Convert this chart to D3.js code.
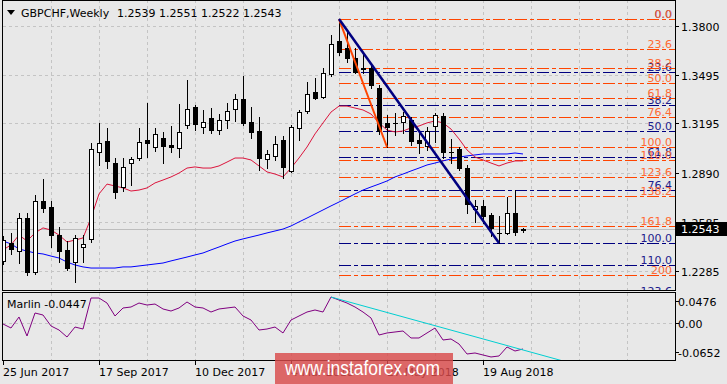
<!DOCTYPE html>
<html>
<head>
<meta charset="utf-8">
<script src="https://cdn.jsdelivr.net/npm/d3@7"></script>
<style>
  body { margin: 0; background: #e8e8e8; }
  svg { display: block; font-family: "DejaVu Sans", sans-serif; }
</style>
</head>
<body>
<div id="chart"></div>
<script>
// weekly bars, index 0 = week of 25 Jun 2017
const opens  = [1.2345,1.2456,1.2406,1.2610,1.2277,1.2715,1.2678,1.2505,1.2413,1.2338,1.2431,1.2481,1.3018,1.3086,1.2950,1.2802,1.2950,1.2981,1.3092,1.3049,1.3105,1.3062,1.3043,1.3185,1.3296,1.3173,1.3228,1.3154,1.3216,1.3284,1.3346,1.3204,1.3148,1.2975,1.2994,1.3092,1.2901,1.3167,1.3272,1.3389,1.3358,1.3500,1.3704,1.3661,1.3599,1.3537,1.3537,1.3414,1.3198,1.3198,1.3204,1.3216,1.3092,1.3055,1.3179,1.3241,1.3018,1.3037,1.2919,1.2666,1.2685,1.2629,1.2518,1.2518,1.2641,1.2539];
const highs  = [1.2499,1.2518,1.2641,1.2641,1.2752,1.2851,1.2715,1.2555,1.2468,1.2505,1.2505,1.3074,1.3198,1.3167,1.2981,1.2981,1.2987,1.3167,1.3321,1.3167,1.3142,1.3179,1.3315,1.3463,1.3309,1.3278,1.3290,1.3253,1.3321,1.3377,1.3488,1.3296,1.3235,1.3031,1.3117,1.3117,1.3185,1.3278,1.3451,1.3476,1.3537,1.3741,1.3840,1.3760,1.3661,1.3630,1.3556,1.3432,1.3247,1.3259,1.3265,1.3235,1.3154,1.3173,1.3259,1.3259,1.3099,1.3049,1.2938,1.2722,1.2722,1.2641,1.2623,1.2740,1.2783,1.2551];
const lows   = [1.2326,1.2388,1.2332,1.2258,1.2264,1.2647,1.2431,1.2338,1.2289,1.2215,1.2338,1.2462,1.2938,1.2919,1.2734,1.2777,1.2814,1.2969,1.2987,1.3024,1.2950,1.3018,1.2987,1.3167,1.3154,1.3136,1.3136,1.3130,1.3167,1.3210,1.3185,1.3105,1.2907,1.2919,1.2969,1.2858,1.2895,1.3092,1.3259,1.3346,1.3352,1.3488,1.3618,1.3574,1.3507,1.3507,1.3414,1.3130,1.3049,1.3123,1.3136,1.3062,1.3012,1.3031,1.3080,1.2981,1.2950,1.2907,1.2641,1.2586,1.2579,1.2499,1.2456,1.2512,1.2505,1.2522];
const closes = [1.2474,1.2419,1.2610,1.2277,1.2715,1.2672,1.2505,1.2406,1.2301,1.2487,1.2450,1.3037,1.3074,1.2963,1.2771,1.2926,1.2975,1.3080,1.3074,1.3130,1.3055,1.3049,1.3142,1.3284,1.3191,1.3204,1.3154,1.3216,1.3272,1.3346,1.3198,1.3142,1.2981,1.3006,1.3068,1.2926,1.3173,1.3265,1.3377,1.3352,1.3507,1.3686,1.3636,1.3599,1.3513,1.3531,1.3432,1.3148,1.3173,1.3196,1.3241,1.3086,1.3074,1.3148,1.3247,1.3018,1.3016,1.2919,1.2697,1.2685,1.2623,1.2549,1.2520,1.2641,1.2524,1.2543];

// moving averages drawn on the price panel
const maFast = [1.2413,1.2444,1.2505,1.2468,1.2518,1.2549,1.2536,1.2505,1.2462,1.2474,1.2487,1.2610,1.2759,1.2820,1.2808,1.2796,1.2777,1.2783,1.2796,1.2827,1.2845,1.2864,1.2888,1.2919,1.2926,1.2919,1.2919,1.2932,1.2956,1.2981,1.2981,1.2969,1.2932,1.2895,1.2882,1.2864,1.2919,1.2981,1.3049,1.3130,1.3198,1.3265,1.3302,1.3302,1.3290,1.3278,1.3253,1.3198,1.3154,1.3142,1.3148,1.3167,1.3179,1.3198,1.3210,1.3198,1.3160,1.3099,1.3031,1.2987,1.2969,1.2950,1.2932,1.2950,1.2963,1.2963];
const maSlow = [1.2468,1.2450,1.2419,1.2406,1.2394,1.2388,1.2375,1.2363,1.2338,1.2320,1.2308,1.2301,1.2301,1.2301,1.2301,1.2308,1.2308,1.2314,1.2320,1.2326,1.2332,1.2345,1.2357,1.2369,1.2382,1.2394,1.2413,1.2431,1.2450,1.2468,1.2481,1.2493,1.2505,1.2518,1.2530,1.2542,1.2561,1.2586,1.2610,1.2635,1.2660,1.2685,1.2709,1.2734,1.2759,1.2783,1.2802,1.2820,1.2839,1.2864,1.2882,1.2901,1.2919,1.2938,1.2950,1.2963,1.2975,1.2987,1.2994,1.3000,1.3006,1.3006,1.3006,1.3006,1.3012,1.3006];

// Marlin oscillator
const marlin = [-0.0033,-0.0122,0.0122,-0.0299,0.0210,0.0166,-0.0077,-0.0166,-0.0321,-0.0100,-0.0144,0.0542,0.0542,0.0431,0.0144,0.0321,0.0343,0.0431,0.0387,0.0409,0.0299,0.0254,0.0321,0.0454,0.0343,0.0321,0.0232,0.0299,0.0321,0.0343,0.0144,0.0055,-0.0166,-0.0144,-0.0100,-0.0232,0.0055,0.0144,0.0232,0.0277,0.0232,0.0564,0.0498,0.0431,0.0343,0.0232,0.0100,-0.0277,-0.0232,-0.0210,-0.0188,-0.0343,-0.0343,-0.0232,-0.0122,-0.0387,-0.0365,-0.0476,-0.0697,-0.0675,-0.0719,-0.0763,-0.0741,-0.0542,-0.0631,-0.0586];
const marlinTrend = [[41, 0.0564], [70, -0.0852]];

const dateTickBars = [0, 12, 24, 36, 48, 60];
const dateLabels = ["25 Jun 2017", "17 Sep 2017", "10 Dec 2017", "4 Mar 2018", "27 May 2018", "19 Aug 2018"];
const priceTicks = [1.3800, 1.3495, 1.3195, 1.2890, 1.2585, 1.2285];
const marlinTicks = [0.0476, 0, -0.0652];
const marlinTickLabels = ["0.0476", "0.00", "-0.0652"];

// fibonacci objects: anchors [bar, price]
const fibLevels = [0, 23.6, 38.2, 50, 61.8, 76.4, 100, 110, 123.6, 138.2, 161.8, 200];
const fibLabels = ["0.0", "23.6", "38.2", "50.0", "61.8", "76.4", "100.0", "110.0", "123.6", "138.2", "161.8", "200"];
const fibNavy = [[42, 1.3840], [62, 1.2456]];
const fibOrange = [[42, 1.3840], [48, 1.3049]];

const lastPrice = 1.2543;

const W = 727, H = 384;
const svg = d3.select("#chart").append("svg").attr("width", W).attr("height", H);

const x = d3.scaleLinear().domain([0, 84]).range([3, 675]);
const y = d3.scaleLinear().domain([1.21653, 1.39391]).range([290, 3]);
const ym = d3.scaleLinear().domain([-0.0830, 0.0653]).range([360, 293]);
const px = v => Math.round(x(v)) + 0.5;

svg.append("clipPath").attr("id", "clipMain").append("rect").attr("x", 3).attr("y", 0).attr("width", 672).attr("height", 290);
svg.append("clipPath").attr("id", "clipInd").append("rect").attr("x", 3).attr("y", 294).attr("width", 672).attr("height", 66);

const gridColor = "#c4c4c4";
// vertical grid
const vGrid = d3.range(6, 84, 6);
[[0, 290], [293, 360]].forEach(([a, b]) => {
  svg.append("g").selectAll("line").data(vGrid).join("line")
    .attr("x1", d => px(d)).attr("x2", d => px(d)).attr("y1", a).attr("y2", b)
    .attr("stroke", gridColor).attr("stroke-dasharray", "3,3");
});
// horizontal grid
svg.append("g").selectAll("line").data(priceTicks).join("line")
  .attr("x1", 3).attr("x2", 675).attr("y1", d => Math.round(y(d)) + 0.5).attr("y2", d => Math.round(y(d)) + 0.5)
  .attr("stroke", gridColor).attr("stroke-dasharray", "3,3");
svg.append("line").attr("x1", 3).attr("x2", 675)
  .attr("y1", Math.round(ym(0)) + 0.5).attr("y2", Math.round(ym(0)) + 0.5)
  .attr("stroke", gridColor).attr("stroke-dasharray", "3,3");

// last price line
svg.append("line").attr("x1", 3).attr("x2", 675)
  .attr("y1", Math.round(y(lastPrice)) + 0.5).attr("y2", Math.round(y(lastPrice)) + 0.5)
  .attr("stroke", "#bdbdbd");

const main = svg.append("g").attr("clip-path", "url(#clipMain)");

// fibonacci lines
function drawFib(anchors, color, textColor) {
  const hi = anchors[0][1], lo = anchors[1][1];
  const g = main.append("g");
  fibLevels.forEach((lv, k) => {
    const p = hi - lv / 100 * (hi - lo);
    const yy = Math.round(y(p)) + 0.5;
    g.append("line").attr("x1", x(anchors[0][0])).attr("x2", 675).attr("y1", yy).attr("y2", yy)
      .attr("stroke", color).attr("stroke-dasharray", "12,3,4,3");
    g.append("text").attr("x", 672).attr("y", yy - 2).attr("text-anchor", "end")
      .attr("font-size", 11).attr("fill", textColor).text(fibLabels[k]);
  });
}
drawFib(fibNavy, "#000080", "#1c1c8c");
drawFib(fibOrange, "#ff4500", "#ff6a33");

// moving averages
const line = d3.line().x((d, i) => x(i)).y(d => y(d));
main.append("path").datum(maSlow).attr("d", line).attr("fill", "none").attr("stroke", "#0000ff").attr("stroke-width", 1);
main.append("path").datum(maFast).attr("d", line).attr("fill", "none").attr("stroke", "#dc143c").attr("stroke-width", 1);

// candles
const candles = main.append("g");
opens.forEach((o, i) => {
  const c = closes[i], cx = px(i);
  candles.append("line").attr("x1", cx).attr("x2", cx)
    .attr("y1", Math.round(y(highs[i]))).attr("y2", Math.round(y(lows[i])) + 1)
    .attr("stroke", "#000");
  const top = Math.round(y(Math.max(o, c))), bot = Math.round(y(Math.min(o, c)));
  if (bot - top < 1) {
    candles.append("line").attr("x1", cx - 2.5).attr("x2", cx + 2.5).attr("y1", top + 0.5).attr("y2", top + 0.5).attr("stroke", "#000");
  } else {
    candles.append("rect").attr("x", cx - 2).attr("y", top + 0.5).attr("width", 4).attr("height", bot - top)
      .attr("fill", c >= o ? "#fff" : "#000").attr("stroke", "#000");
  }
});

// trend lines
main.append("line").attr("x1", x(fibOrange[0][0])).attr("y1", y(fibOrange[0][1]))
  .attr("x2", x(fibOrange[1][0])).attr("y2", y(fibOrange[1][1]))
  .attr("stroke", "#ff4500").attr("stroke-width", 2);
main.append("line").attr("x1", x(fibNavy[0][0])).attr("y1", y(fibNavy[0][1]))
  .attr("x2", x(fibNavy[1][0])).attr("y2", y(fibNavy[1][1]))
  .attr("stroke", "#000080").attr("stroke-width", 2.5);

// Marlin panel
const ind = svg.append("g").attr("clip-path", "url(#clipInd)");
ind.append("path").datum(marlin).attr("d", d3.line().x((d, i) => x(i)).y(d => ym(d)))
  .attr("fill", "none").attr("stroke", "#800080").attr("stroke-width", 1);
ind.append("line").attr("x1", x(marlinTrend[0][0])).attr("y1", ym(marlinTrend[0][1]))
  .attr("x2", x(marlinTrend[1][0])).attr("y2", ym(marlinTrend[1][1]))
  .attr("stroke", "#00ced1").attr("stroke-width", 1);

// frames
svg.append("rect").attr("x", 2.5).attr("y", 0.5).attr("width", 673).attr("height", 290)
  .attr("fill", "none").attr("stroke", "#000");
svg.append("rect").attr("x", 2.5).attr("y", 292.5).attr("width", 673).attr("height", 68)
  .attr("fill", "none").attr("stroke", "#000");

// right price axis
const axisG = svg.append("g").attr("font-size", 11);
priceTicks.forEach(p => {
  const yy = Math.round(y(p)) + 0.5;
  axisG.append("line").attr("x1", 675).attr("x2", 679).attr("y1", yy).attr("y2", yy).attr("stroke", "#000");
  axisG.append("text").attr("x", 681).attr("y", yy + 4).attr("fill", "#000").text(p.toFixed(4));
});
const ly = Math.round(y(lastPrice));
axisG.append("rect").attr("x", 676).attr("y", ly - 7).attr("width", 51).attr("height", 14).attr("fill", "#000");
axisG.append("text").attr("x", 681).attr("y", ly + 4).attr("fill", "#fff").text(lastPrice.toFixed(4));

marlinTicks.forEach((v, k) => {
  const yy = Math.round(ym(v)) + 0.5;
  axisG.append("line").attr("x1", 675).attr("x2", 679).attr("y1", yy).attr("y2", yy).attr("stroke", "#000");
  axisG.append("text").attr("x", 678).attr("y", yy + 4).attr("fill", "#000").text(marlinTickLabels[k]);
});

// date axis
dateTickBars.forEach((b, k) => {
  const xx = px(b);
  axisG.append("line").attr("x1", xx).attr("x2", xx).attr("y1", 361).attr("y2", 365).attr("stroke", "#000");
  axisG.append("text").attr("x", xx - 0.5).attr("y", 376).attr("fill", "#000").text(dateLabels[k]);
});

// titles
svg.append("path").attr("d", "M7,10 L15,10 L11,15 Z").attr("fill", "#000");
svg.append("text").attr("x", 21).attr("y", 17).attr("font-size", 11).text("GBPCHF,Weekly");
svg.append("text").attr("x", 117).attr("y", 17).attr("font-size", 11).text("1.2539 1.2551 1.2522 1.2543");
svg.append("text").attr("x", 7).attr("y", 308).attr("font-size", 11).text("Marlin -0.0447");

// watermark
svg.append("rect").attr("x", 275).attr("y", 353).attr("width", 178).attr("height", 31)
  .attr("fill", "#d94a4a").attr("opacity", 0.82);
svg.append("text").attr("x", 285).attr("y", 375).attr("font-family", "Liberation Sans, Arial, sans-serif")
  .attr("font-size", 20).attr("fill", "#fff").attr("textLength", 155).attr("lengthAdjust", "spacingAndGlyphs")
  .text("www.instaforex.com");
</script>
</body>
</html>
